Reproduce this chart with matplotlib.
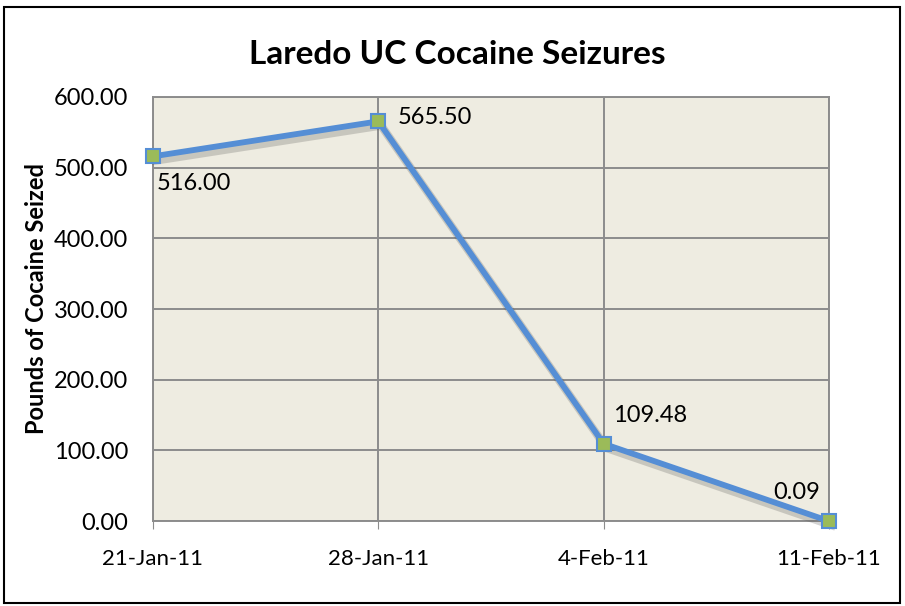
import matplotlib.pyplot as plt
import matplotlib.patheffects as pe
from matplotlib.patches import Rectangle

dates = ["21-Jan-11", "28-Jan-11", "4-Feb-11", "11-Feb-11"]
pounds = [516.00, 565.50, 109.48, 0.09]
point_labels = ["516.00", "565.50", "109.48", "0.09"]

plt.rcParams["font.family"] = ["Lato", "DejaVu Sans"]

fig = plt.figure(figsize=(9.05, 6.06), dpi=100)
ax = fig.add_axes([0.169, 0.140, 0.747, 0.700])
ax.set_facecolor("#EEECE1")

x = list(range(len(dates)))
# line with soft drop shadow
ax.plot(x, pounds, color="#558ED5", linewidth=4.2, zorder=3, clip_on=False,
        solid_joinstyle="miter",
        path_effects=[pe.SimpleLineShadow(offset=(2, -3), shadow_color="#555555",
                                          alpha=0.25, linewidth=6),
                      pe.Normal()])
ax.plot(x, pounds, linestyle="none", marker="s", markersize=10,
        markerfacecolor="#9BBB59", markeredgecolor="#558ED5", markeredgewidth=1.5,
        zorder=4, clip_on=False)

# offsets in pixels (dx, dy) -> points
offsets = [(4, -17, "left", "top"), (19, 4, "left", "center"),
           (9, 28, "left", "center"), (-9, 29, "right", "center")]
for xi, yi, lab, (dx, dy, ha, va) in zip(x, pounds, point_labels, offsets):
    ax.annotate(lab, (xi, yi), xytext=(dx * 0.72, dy * 0.72), textcoords="offset points",
                ha=ha, va=va, fontsize=17, color="black")

ax.set_xlim(0, 3)
ax.set_ylim(0, 600)
ax.set_xticks(x)
ax.set_xticklabels(dates, fontsize=16)
ax.set_yticks(range(0, 601, 100))
ax.set_yticklabels([f"{v:.2f}" for v in range(0, 601, 100)], fontsize=17)
ax.tick_params(axis="x", length=6, color="#8C8C8C", pad=14)
ax.tick_params(axis="y", length=0, pad=18)
ax.grid(True, color="#8C8C8C", linewidth=1.4)
ax.set_axisbelow(True)
for s in ax.spines.values():
    s.set_color("#8C8C8C")
    s.set_linewidth(1.4)

fig.text(37 / 905, 1 - 298 / 606, "Pounds of Cocaine Seized", rotation=90,
         ha="center", va="center", fontsize=17, fontweight="bold")
fig.text(0.505, 1 - 55 / 606, "Laredo UC Cocaine Seizures", ha="center", va="center",
         fontsize=24, fontweight="bold")

fig.patches.append(Rectangle((4 / 905, 3 / 606), 896 / 905, 596 / 606,
                             transform=fig.transFigure, fill=False,
                             edgecolor="black", linewidth=1.5))

fig.savefig("out.png", dpi=100)
